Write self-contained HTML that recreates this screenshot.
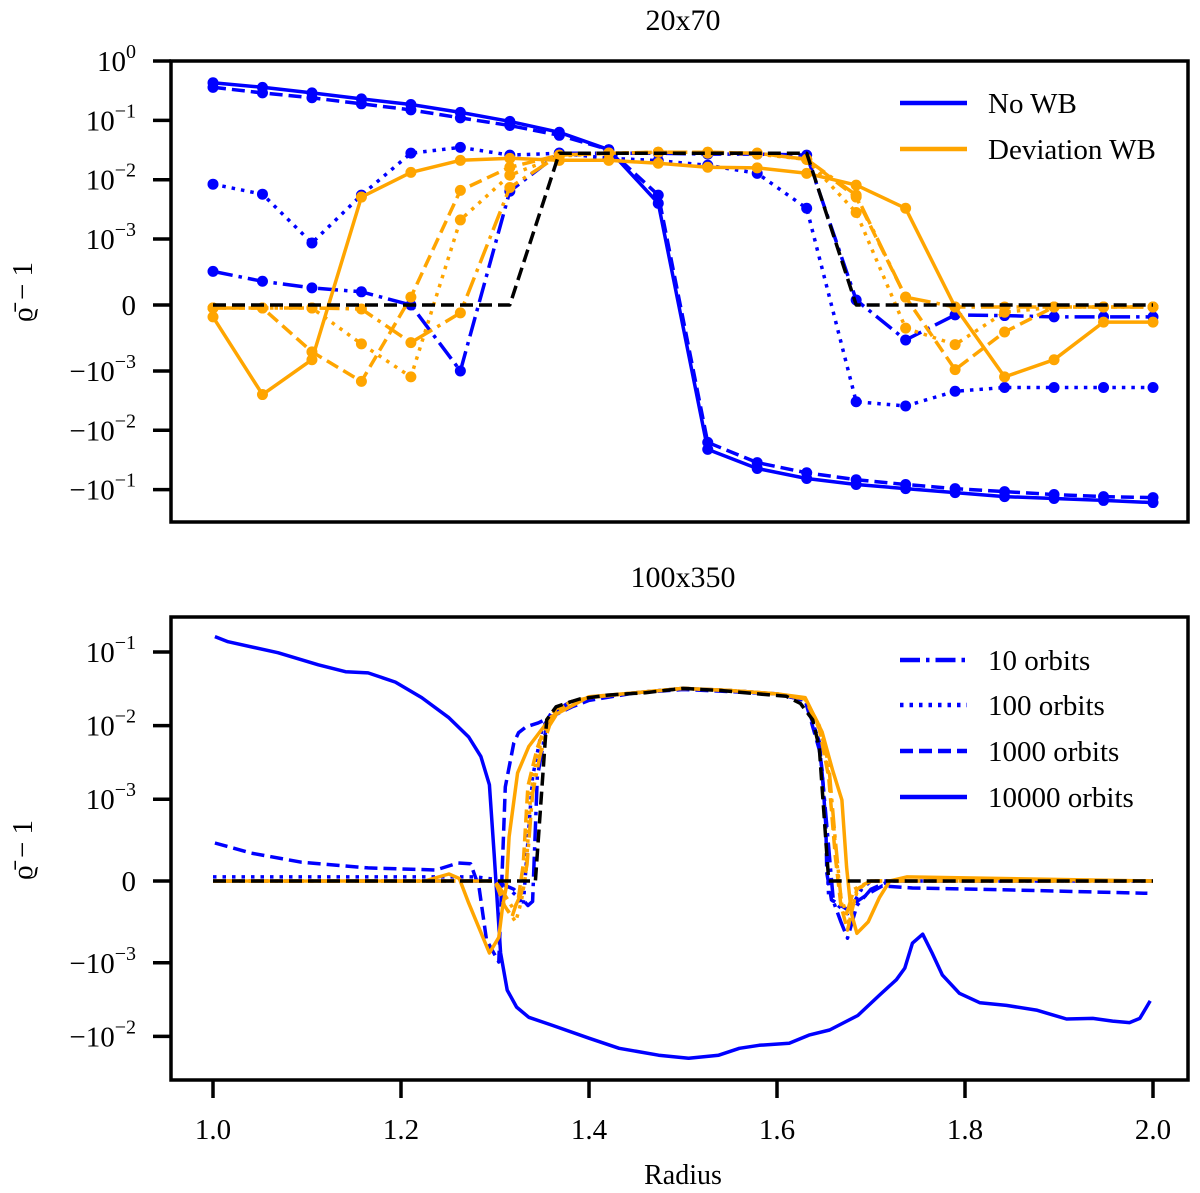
<!DOCTYPE html>
<html><head><meta charset="utf-8"><style>
body{margin:0;background:#fff}
svg{display:block;font-family:"Liberation Serif","DejaVu Serif",serif}
</style></head><body>
<svg id="chart" width="1200" height="1193" viewBox="0 0 1200 1193" xmlns="http://www.w3.org/2000/svg">
<rect x="0" y="0" width="1200" height="1193" fill="#fff"/>
<text x="683" y="30" font-size="30" text-anchor="middle">20x70</text>
<text x="683" y="587" font-size="30" text-anchor="middle">100x350</text>
<text x="683" y="1184" font-size="28" text-anchor="middle">Radius</text>
<text transform="translate(32,292) rotate(-90)" font-size="29" text-anchor="middle">ϱ̄ − 1</text>
<text transform="translate(32,850) rotate(-90)" font-size="29" text-anchor="middle">ϱ̄ − 1</text>
<g id="g1"></g>
<g id="g2"></g>
<g id="axes"></g>
<g id="legends"></g>
</svg>
<script>
// ---- top panel data (20x70) ----
const topIndex = [0,1,2,3,4,5,6,7,8,9,10,11,12,13,14,15,16,17,18,19];
const topInit = [0,0,0,0,0,0,0,0.028,0.028,0.028,0.028,0.028,0.028,0,0,0,0,0,0,0];
const topBlue10 = [5.1e-4,3.6e-4,2.6e-4,2.0e-4,0,-1.0e-3,0.0064,0.028,0.028,0.028,0.027,0.027,0.026,7.6e-5,-5.3e-4,-1.5e-4,-1.6e-4,-1.8e-4,-1.8e-4,-1.8e-4];
const topBlue100 = [0.0084,0.0057,0.00094,0.0055,0.028,0.035,0.026,0.028,0.023,0.021,0.0175,0.0128,0.0033,-0.0033,-0.0039,-0.0022,-0.0019,-0.0019,-0.0019,-0.0019];
const topBlue1000 = [0.36,0.29,0.24,0.19,0.15,0.11,0.082,0.056,0.032,0.0055,-0.016,-0.035,-0.052,-0.068,-0.082,-0.096,-0.108,-0.121,-0.131,-0.136];
const topBlue10000 = [0.43,0.36,0.29,0.23,0.185,0.136,0.096,0.063,0.032,0.004,-0.021,-0.044,-0.065,-0.082,-0.096,-0.112,-0.131,-0.141,-0.152,-0.165];
const topOrange10 = [-4.5e-5,-4.5e-5,-4.5e-5,-6e-5,-5.7e-4,-1.2e-4,0.0074,0.026,0.028,0.029,0.029,0.028,0.022,0.0055,1.2e-4,-3e-5,-3e-5,-3e-5,-3e-5,-3e-5];
const topOrange100 = [-4.5e-5,-4.5e-5,-4.5e-5,-5.9e-4,-0.00126,0.0021,0.0119,0.025,0.028,0.029,0.028,0.027,0.022,0.0028,-3.5e-4,-6.0e-4,-1.1e-4,-3e-5,-3e-5,-3e-5];
const topOrange1000 = [-4.5e-5,-4.5e-5,-7.1e-4,-0.0015,1.2e-4,0.0066,0.0162,0.026,0.028,0.029,0.029,0.028,0.022,0.0051,1.2e-4,-9.8e-4,-4.1e-4,-3e-5,-3e-5,-3e-5];
const topOrange10000 = [-1.8e-4,-0.0025,-8.3e-4,0.0051,0.0133,0.0212,0.0229,0.0212,0.0212,0.0189,0.0162,0.0158,0.0128,0.0081,0.0033,-3e-5,-0.00126,-8.3e-4,-2.6e-4,-2.6e-4];

// ---- bottom panel data (100x350) ----
const botInitR = [1.0,1.343,1.355,1.365,1.375,1.39,1.42,1.46,1.50,1.54,1.58,1.61,1.625,1.638,1.645,1.655,2.0];
const botInitV = [0,0,0.012,0.018,0.020,0.023,0.026,0.028,0.032,0.030,0.027,0.025,0.020,0.012,0.005,0,0];
const botBlue10R = [1.0,1.30,1.32,1.335,1.34,1.345,1.355,1.365,1.38,1.40,1.45,1.50,1.55,1.60,1.63,1.645,1.652,1.66,1.668,1.675,1.685,1.70,1.72,2.0];
const botBlue10V = [0,0,-1e-4,-3e-4,-2.5e-4,0.002,0.010,0.016,0.021,0.024,0.028,0.032,0.030,0.027,0.022,0.006,8e-4,-2.5e-4,-5e-4,-7e-4,-3e-4,-1e-4,0,0];
const botBlue100R = [1.0,1.28,1.30,1.315,1.325,1.33,1.34,1.35,1.36,1.38,1.40,1.45,1.50,1.55,1.60,1.63,1.645,1.65,1.655,1.665,1.675,1.69,1.70,2.0];
const botBlue100V = [5e-5,5e-5,2e-5,-1e-4,-2e-4,-3e-4,0.002,0.009,0.015,0.020,0.024,0.028,0.032,0.030,0.027,0.022,0.006,0.001,-2e-4,-3e-4,-4e-4,-1e-4,0,0];
const botBlue1000R = [1.002,1.041,1.094,1.165,1.237,1.261,1.274,1.283,1.291,1.304,1.311,1.320,1.325,1.333,1.346,1.360,1.382,1.400,1.45,1.50,1.55,1.60,1.63,1.645,1.648,1.652,1.653,1.658,1.668,1.675,1.685,1.698,1.712,1.744,1.851,1.994];
const botBlue1000V = [4.65e-4,3.4e-4,2.3e-4,1.6e-4,1.35e-4,2.2e-4,2.1e-4,-7.3e-5,-7.2e-4,-9.9e-4,0.00147,0.0058,0.0080,0.0096,0.0109,0.0132,0.018,0.022,0.028,0.031,0.029,0.027,0.022,0.0047,0.0025,6.6e-4,9.8e-5,-2.3e-4,-3.0e-4,-3.5e-4,-2.5e-4,-1.5e-4,-6e-5,-8.6e-5,-1.1e-4,-1.5e-4];
const botBlue10000R = [1.002,1.016,1.069,1.112,1.141,1.165,1.194,1.222,1.251,1.272,1.285,1.294,1.299,1.306,1.313,1.323,1.336,1.360,1.400,1.432,1.474,1.506,1.538,1.560,1.581,1.613,1.634,1.656,1.686,1.709,1.727,1.736,1.744,1.755,1.765,1.776,1.794,1.816,1.844,1.876,1.908,1.936,1.957,1.975,1.986,1.997];
const botBlue10000V = [0.162,0.138,0.098,0.067,0.054,0.052,0.039,0.024,0.0128,0.0070,0.0038,0.00157,3.4e-4,-8.8e-4,-0.00235,-0.0040,-0.0055,-0.0070,-0.0106,-0.0145,-0.018,-0.0198,-0.018,-0.0145,-0.0132,-0.0124,-0.0096,-0.0082,-0.0052,-0.00275,-0.0017,-0.00118,-7.6e-4,-6.5e-4,-8.8e-4,-0.00147,-0.0026,-0.0035,-0.0038,-0.0044,-0.0058,-0.0057,-0.0062,-0.0065,-0.0057,-0.0033];
const botOrange10R = [1.0,1.30,1.312,1.32,1.328,1.334,1.34,1.348,1.358,1.368,1.38,1.40,1.45,1.50,1.55,1.60,1.63,1.645,1.655,1.662,1.668,1.674,1.682,1.70,2.0];
const botOrange10V = [0,0,-2e-4,-3.5e-4,-1.5e-4,2e-4,0.0012,0.004,0.010,0.016,0.021,0.024,0.028,0.032,0.030,0.027,0.023,0.010,0.003,5e-4,-2e-4,-4e-4,-1e-4,0,0];
const botOrange100R = [1.0,1.30,1.31,1.322,1.328,1.333,1.338,1.346,1.356,1.366,1.38,1.40,1.45,1.50,1.55,1.60,1.63,1.645,1.656,1.663,1.669,1.676,1.686,1.70,2.0];
const botOrange100V = [0,0,-3e-4,-5e-4,-2.5e-4,1e-4,0.0012,0.0045,0.010,0.016,0.021,0.024,0.028,0.032,0.030,0.027,0.023,0.010,0.002,3e-4,-3e-4,-5e-4,-1e-4,0,0];
const botOrange1000R = [1.0,1.30,1.31,1.318,1.325,1.33,1.335,1.345,1.355,1.365,1.38,1.40,1.45,1.50,1.55,1.60,1.63,1.645,1.655,1.662,1.668,1.675,1.685,1.70,2.0];
const botOrange1000V = [0,0,-3e-4,-4.4e-4,-2e-4,2e-4,0.0015,0.005,0.011,0.017,0.021,0.024,0.028,0.032,0.030,0.027,0.023,0.009,0.002,3e-4,-3e-4,-6e-4,-1e-4,0,0];
const botOrange10000R = [1.0,1.225,1.251,1.262,1.272,1.294,1.304,1.308,1.312,1.315,1.324,1.336,1.360,1.40,1.45,1.50,1.55,1.60,1.63,1.648,1.659,1.669,1.674,1.679,1.685,1.697,1.709,1.72,1.738,2.0];
const botOrange10000V = [0,0,8.6e-5,3e-5,-2.7e-4,-8.8e-4,-6.9e-4,-3.2e-4,-7e-5,5.4e-4,0.00228,0.0052,0.0132,0.0247,0.028,0.032,0.030,0.027,0.024,0.0082,0.0025,9.9e-4,1.7e-4,-3.9e-4,-6.4e-4,-5e-4,-2e-4,0,5e-5,0];

// tick labels
const xTicks = [1.0,1.2,1.4,1.6,1.8,2.0];
const xTickLabels = ["1.0","1.2","1.4","1.6","1.8","2.0"];
const topYTicks = [1,0.1,0.01,0.001,0,-0.001,-0.01,-0.1];
const topYTickLabels = [["","0"],["","−1"],["","−2"],["","−3"],["0",""],["−","−3"],["−","−2"],["−","−1"]];
const botYTicks = [0.1,0.01,0.001,0,-0.001,-0.01];
const botYTickLabels = [["","−1"],["","−2"],["","−3"],["0",""],["−","−3"],["−","−2"]];

const NS="http://www.w3.org/2000/svg";
const BLUE="#0000ff", ORANGE="#ffa500";
const LT=1e-3, LS=1/(1-0.1);
function symlog(v){const a=Math.abs(v);const t=a<=LT?a/LT*LS:LS+Math.log10(a/LT);return v<0?-t:t;}
function sx(r){return 213+(r-1)*940;}
function sy1(v){return 305-symlog(v)*59.35;}
function sy2(v){return 881-symlog(v)*73.6;}
const DASH={solid:"",dashed:"13,6",dotted:"3.5,6",dashdot:"20,6,3.5,6",black:"13,6"};
function mk(tag,attrs,parent){const e=document.createElementNS(NS,tag);for(const k in attrs)e.setAttribute(k,attrs[k]);parent.appendChild(e);return e;}
function drawLine(parent,rs,vs,sy,color,dash,name,markers){
  const d=rs.map((r,i)=>(i?"L":"M")+sx(r).toFixed(1)+","+sy(vs[i]).toFixed(1)).join("");
  const p=mk("path",{d:d,fill:"none",stroke:color,"stroke-width":3.5,"stroke-dasharray":dash,"stroke-linejoin":"round"},parent);
  
  
  if(markers){rs.forEach((r,i)=>{const c=mk("circle",{cx:sx(r),cy:sy(vs[i]),r:5.5,fill:color},parent);
    
    });}
}
const g1=document.getElementById("g1"), g2=document.getElementById("g2");
const topR=topIndex.map(i=>1+i/19);
drawLine(g1,topR,topBlue10,sy1,BLUE,DASH.dashdot,"top-blue-10-orbits",true);
drawLine(g1,topR,topBlue100,sy1,BLUE,DASH.dotted,"top-blue-100-orbits",true);
drawLine(g1,topR,topBlue1000,sy1,BLUE,DASH.dashed,"top-blue-1000-orbits",true);
drawLine(g1,topR,topBlue10000,sy1,BLUE,DASH.solid,"top-blue-10000-orbits",true);
drawLine(g1,topR,topOrange10,sy1,ORANGE,DASH.dashdot,"top-orange-10-orbits",true);
drawLine(g1,topR,topOrange100,sy1,ORANGE,DASH.dotted,"top-orange-100-orbits",true);
drawLine(g1,topR,topOrange1000,sy1,ORANGE,DASH.dashed,"top-orange-1000-orbits",true);
drawLine(g1,topR,topOrange10000,sy1,ORANGE,DASH.solid,"top-orange-10000-orbits",true);
drawLine(g1,topR,topInit,sy1,"#000",DASH.black,"top-initial-profile",false);

drawLine(g2,botBlue10R,botBlue10V,sy2,BLUE,DASH.dashdot,"bottom-blue-10-orbits",false);
drawLine(g2,botBlue100R,botBlue100V,sy2,BLUE,DASH.dotted,"bottom-blue-100-orbits",false);
drawLine(g2,botBlue1000R,botBlue1000V,sy2,BLUE,DASH.dashed,"bottom-blue-1000-orbits",false);
drawLine(g2,botBlue10000R,botBlue10000V,sy2,BLUE,DASH.solid,"bottom-blue-10000-orbits",false);
drawLine(g2,botOrange10R,botOrange10V,sy2,ORANGE,DASH.dashdot,"bottom-orange-10-orbits",false);
drawLine(g2,botOrange100R,botOrange100V,sy2,ORANGE,DASH.dotted,"bottom-orange-100-orbits",false);
drawLine(g2,botOrange1000R,botOrange1000V,sy2,ORANGE,DASH.dashed,"bottom-orange-1000-orbits",false);
drawLine(g2,botOrange10000R,botOrange10000V,sy2,ORANGE,DASH.solid,"bottom-orange-10000-orbits",false);
drawLine(g2,botInitR,botInitV,sy2,"#000",DASH.black,"bottom-initial-profile",false);

const ax=document.getElementById("axes");
function frame(y0,y1,name){const r=mk("rect",{x:171,y:y0,width:1017,height:y1-y0,fill:"none",stroke:"#000","stroke-width":3.5},ax);
  
  }
frame(61,522,"top-axes-frame");frame(617,1080,"bottom-axes-frame");
function yTicks(ticks,labels,sy,prefix){ticks.forEach((v,i)=>{const y=sy(v);
  const l=mk("line",{x1:153,x2:171,y1:y,y2:y,stroke:"#000","stroke-width":3.5},ax);
  
  
  const t=mk("text",{x:136,y:y+10,"font-size":29,"text-anchor":"end"},ax);
  
  
  const lab=labels[i];
  if(lab[0]==="0"){t.textContent="0";}
  else{const a=document.createElementNS(NS,"tspan");a.textContent=lab[0]+"10";t.appendChild(a);
    const b=document.createElementNS(NS,"tspan");b.setAttribute("dy","-13");b.setAttribute("font-size","20");b.textContent=lab[1];t.appendChild(b);}
});}
yTicks(topYTicks,topYTickLabels,sy1,"top");
yTicks(botYTicks,botYTickLabels,sy2,"bottom");
xTicks.forEach((r,i)=>{const x=sx(r);
  const l=mk("line",{x1:x,x2:x,y1:1080,y2:1098,stroke:"#000","stroke-width":3.5},ax);
  
  
  const t=mk("text",{x:x,y:1139,"font-size":29,"text-anchor":"middle"},ax);
  
  
  t.textContent=xTickLabels[i];
});

const lg=document.getElementById("legends");
function legendEntry(y,color,dash,label,name){
  const l=mk("line",{x1:900,x2:967,y1:y,y2:y,stroke:color,"stroke-width":4.5,"stroke-dasharray":dash},lg);
  
  
  const t=mk("text",{x:988,y:y+10,"font-size":29},lg);
  
  
  t.textContent=label;
}
legendEntry(103,BLUE,"","No WB","legend-entry-no-wb");
legendEntry(149,ORANGE,"","Deviation WB","legend-entry-deviation-wb");
legendEntry(660,BLUE,DASH.dashdot,"10 orbits","legend-entry-10-orbits");
legendEntry(705,BLUE,DASH.dotted,"100 orbits","legend-entry-100-orbits");
legendEntry(751,BLUE,DASH.dashed,"1000 orbits","legend-entry-1000-orbits");
legendEntry(797,BLUE,"","10000 orbits","legend-entry-10000-orbits");
</script>
</body></html>
